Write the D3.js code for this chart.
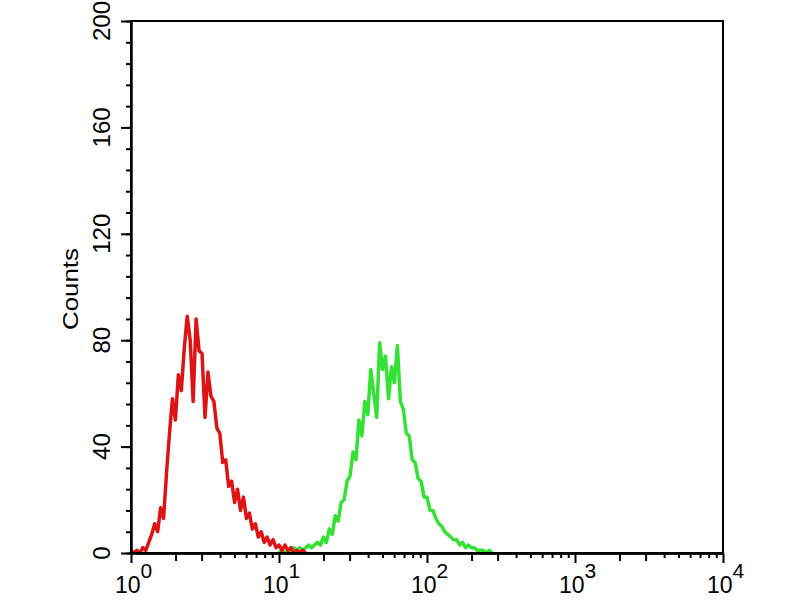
<!DOCTYPE html>
<head>
  <meta charset="utf-8">
  <title>Counts histogram</title>
  <script src="https://d3js.org/d3.v7.min.js"></script>
  <style type="text/css">
    body { margin: 0; background: #fff; }
    svg { user-select: none; font-family: "Liberation Sans", Arial, sans-serif; }
    .hist { fill: none; stroke-width: 3.5px; stroke-linejoin: round; }
    .axis path, .axis line { stroke: #000; stroke-width: 2px; }
    .frame { fill: none; stroke: #000; stroke-width: 2px; }
  </style>
</head>
<body>
  <div id="graph-container"></div>

<script>
// =================== Data ======================
  // histogram bins, 0.02 decade wide (log scale)
  const binDecades = 0.02;

  // red: isotype control, bins start at 10^0
  const redStart = 1;
  const redCounts = [1,0,1,0,2,1,4,7,11,8,17,13,30,45,58,50,67,61,77,89,
                     80,57,88,76,75,51,68,59,57,47,45,34,35,25,27,19,24,16,21,13,
                     15,9,11,6,8,4,6,3,5,2,3,1,3,1,2,0,1,0,1,0];

  // green: stained sample, bins start at 10^1
  const greenStart = 10;
  const greenCounts = [0,1,0,1,0,2,1,2,1,2,3,2,3,4,3,6,4,9,7,14,
                       12,19,20,27,29,38,35,50,44,57,52,69,60,51,79,69,74,58,70,64,
                       78,57,54,45,44,35,34,28,27,21,21,16,16,13,11,10,8,7,6,5,
                       5,3,4,2,3,2,2,1,1,1,0,1,0];

  const yMajorTicks = [0, 40, 80, 120, 160, 200];
  const yMinorStep = 8;
  const xDecades = [1, 10, 100, 1000, 10000];
  const xDecadeExp = ["0", "1", "2", "3", "4"];
  const yLabel = "Counts";

// =================== Chart Prep ======================
  let width = 800, height = 600,
      margin = { top: 21, right: 77, bottom: 47, left: 131 };

  let x = d3.scaleLog()
      .domain([1, 10000])
      .range([margin.left, width - margin.right]);

  let y = d3.scaleLinear()
      .domain([0, 200])
      .range([height - margin.bottom, margin.top]);

  var svg = d3.select("#graph-container").append("svg")
      .attr("width", width)
      .attr("height", height);

  svg.append("clipPath").attr("id", "plot-clip")
    .append("rect")
      .attr("x", margin.left).attr("y", margin.top)
      .attr("width", x.range()[1] - x.range()[0])
      .attr("height", y.range()[0] - y.range()[1]);

  // turn bin counts into points on the log axis
  function toPoints(start, counts) {
    return counts.map((c, i) => ({ v: start * Math.pow(10, i * binDecades), c: c }));
  }

  var line = d3.line()
      .x(d => x(d.v))
      .y(d => y(d.c));

// =================== Histograms ======================
  var g = svg.append("g").attr("clip-path", "url(#plot-clip)");

  g.append("path")
      .attr("class", "hist")
      .attr("stroke", "#33e233")
      .attr("d", line(toPoints(greenStart, greenCounts)));

  g.append("path")
      .attr("class", "hist")
      .attr("stroke", "#de1414")
      .attr("d", line(toPoints(redStart, redCounts)));

// =================== Axes ======================
  let x0 = margin.left, yb = height - margin.bottom;

  // y: minor ticks every 8 counts, longer ones at labels
  svg.append("g")
      .attr("class", "axis")
      .attr("transform", "translate(" + x0 + ",0)")
      .call(d3.axisLeft(y).tickValues(d3.range(0, 201, yMinorStep))
            .tickSize(5).tickSizeOuter(0).tickFormat(""));
  svg.append("g")
      .attr("class", "axis")
      .attr("transform", "translate(" + x0 + ",0)")
      .call(d3.axisLeft(y).tickValues(yMajorTicks)
            .tickSize(10).tickSizeOuter(0).tickFormat(""));

  svg.selectAll(".ylab")
      .data(yMajorTicks)
    .enter().append("text")
      .attr("class", "ylab")
      .attr("transform", d => "translate(" + (x0 - 21) + "," + y(d) + ") rotate(-90)")
      .attr("text-anchor", "middle")
      .attr("font-size", 24)
      .text(d => d);

  svg.append("text")
      .attr("transform", "translate(78," + 289 + ") rotate(-90)")
      .attr("text-anchor", "middle")
      .attr("font-size", 22)
      .attr("textLength", 82)
      .attr("lengthAdjust", "spacingAndGlyphs")
      .text(yLabel);

  // x: log ticks, 2 and 3 a bit longer than 4..9
  let xMinor = [], xMid = [];
  xDecades.slice(0, -1).forEach(dec => {
    [2, 3].forEach(k => xMid.push(dec * k));
    [4, 5, 6, 7, 8, 9].forEach(k => xMinor.push(dec * k));
  });

  svg.append("g")
      .attr("class", "axis")
      .attr("transform", "translate(0," + yb + ")")
      .call(d3.axisBottom(x).tickValues(xMinor)
            .tickSize(5).tickSizeOuter(0).tickFormat(""));
  svg.append("g")
      .attr("class", "axis")
      .attr("transform", "translate(0," + yb + ")")
      .call(d3.axisBottom(x).tickValues(xMid)
            .tickSize(8).tickSizeOuter(0).tickFormat(""));
  svg.append("g")
      .attr("class", "axis")
      .attr("transform", "translate(0," + yb + ")")
      .call(d3.axisBottom(x).tickValues(xDecades)
            .tickSize(10).tickSizeOuter(0).tickFormat(""));

  var xl = svg.selectAll(".xlab")
      .data(xDecades)
    .enter().append("text")
      .attr("class", "xlab")
      .attr("x", d => x(d) - 16)
      .attr("y", yb + 40)
      .attr("font-size", 23);
  xl.append("tspan").text("10");
  xl.append("tspan")
      .attr("dy", -15)
      .attr("font-size", 21)
      .text((d, i) => xDecadeExp[i]);

  // box around the plot
  svg.append("rect")
      .attr("class", "frame")
      .attr("x", x.range()[0]).attr("y", y.range()[1])
      .attr("width", x.range()[1] - x.range()[0])
      .attr("height", y.range()[0] - y.range()[1]);
</script>
</body>
